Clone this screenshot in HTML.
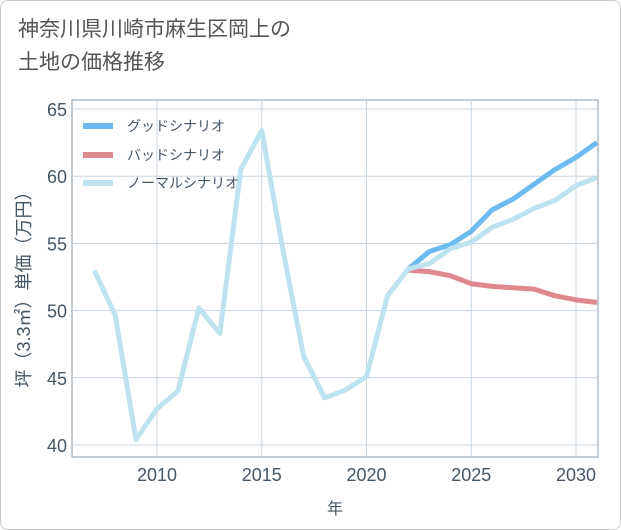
<!DOCTYPE html>
<html><head><meta charset="utf-8"><style>
body{margin:0;background:#fff}
#wrap{position:relative;width:619px;height:528px;border:1px solid #ccc;border-radius:8px;overflow:hidden;font-family:"Liberation Sans","Noto Sans CJK JP",sans-serif}
#title{position:absolute;left:17px;top:12px;font-size:21px;line-height:33px;color:#555}
</style></head><body>
<div id="wrap">
<div id="title">神奈川県川崎市麻生区岡上の<br>土地の価格推移</div>
<svg id="chart" width="621" height="530" style="position:absolute;left:-1px;top:-1px"></svg>
</div>
<script>
const years=[2007,2008,2009,2010,2011,2012,2013,2014,2015,2016,2017,2018,2019,2020,2021,2022,2023,2024,2025,2026,2027,2028,2029,2030,2031];
const normal=[53.0,49.7,40.4,42.7,44.0,50.2,48.3,60.5,63.4,54.6,46.6,43.5,44.1,45.1,51.1,53.1,53.5,54.6,55.1,56.2,56.8,57.6,58.2,59.3,59.9];
const fYears=[2022,2023,2024,2025,2026,2027,2028,2029,2030,2031];
const good=[53.1,54.4,54.9,55.9,57.5,58.3,59.4,60.5,61.4,62.5];
const bad=[53.0,52.9,52.6,52.0,51.8,51.7,51.6,51.1,50.8,50.6];
const xTicks=[2010,2015,2020,2025,2030];
const yTicks=[40,45,50,55,60,65];
const NS='http://www.w3.org/2000/svg';
const svg=document.getElementById('chart');
const L=72,R=598,T=100,B=457;
const x=v=>157+(v-2010)*(576-157)/20;
const y=v=>445-(v-40)*(445-109)/25;
function mk(t,a){const e=document.createElementNS(NS,t);for(const k in a)e.setAttribute(k,a[k]);svg.appendChild(e);return e;}
let e=mk('rect',{x:L,y:T,width:R-L,height:B-T,fill:'none',stroke:'#8a9aaa','stroke-width':1});


xTicks.forEach(t=>{
 let g=mk('line',{x1:x(t),x2:x(t),y1:T,y2:B,stroke:'#c8d6e2','stroke-width':1});
 
 
 let l=mk('text',{x:x(t),y:481,'text-anchor':'middle','font-size':18,fill:'#445566'});l.textContent=t;
 
 
});
yTicks.forEach(t=>{
 let g=mk('line',{x1:L,x2:R,y1:y(t),y2:y(t),stroke:'#c8d6e2','stroke-width':1});
 
 
 let l=mk('text',{x:67,y:y(t)+7,'text-anchor':'end','font-size':18,fill:'#445566'});l.textContent=t;
 
 
});
function line(xs,ys,c,n){
 const p=mk('polyline',{points:xs.map((v,i)=>x(v)+','+y(ys[i])).join(' '),fill:'none',stroke:c,'stroke-width':5,'stroke-linejoin':'round'});
 
 
}
line(fYears,bad,'#e0888f','bad-scenario-line');
line(fYears,good,'#6bbaf0','good-scenario-line');
line(years,normal,'#bde2f0','normal-scenario-line');
const leg=[['グッドシナリオ','#6bbaf0',126],['バッドシナリオ','#e0888f',155],['ノーマルシナリオ','#bde2f0',183]];
leg.forEach(([s,c,yy])=>{
 let ln=mk('line',{x1:83,x2:113,y1:yy,y2:yy,stroke:c,'stroke-width':6});
 
 
 let t=mk('text',{x:127,y:yy+5,'font-size':14,fill:'#445566'});t.textContent=s;
 
 
});
let xt=mk('text',{x:335,y:514,'text-anchor':'middle','font-size':16,fill:'#445566'});xt.textContent='年';


let yt=mk('text',{x:0,y:0,'text-anchor':'middle','font-size':18,fill:'#445566',transform:'translate(30,285) rotate(-90)'});yt.textContent='坪（3.3㎡）単価（万円）';


</script>
</body></html>
